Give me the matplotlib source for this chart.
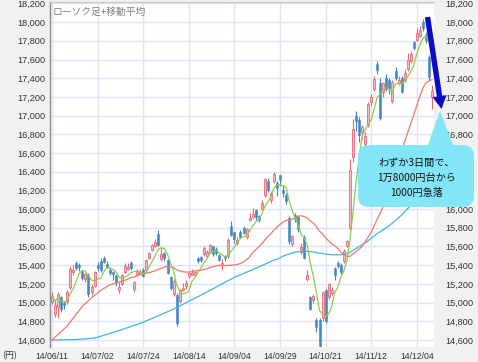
import numpy as np
import pandas as pd
import matplotlib
matplotlib.use("Agg")
import matplotlib.pyplot as plt
from matplotlib.patches import Polygon, FancyBboxPatch
from matplotlib.transforms import IdentityTransform

# ---------------- data (Nikkei 225 daily, 2014/06/11 - 2014/12/11) ----------------
trading_days = {
    "06": [11, 12, 13, 16, 17, 18, 19, 20, 23, 24, 25, 26, 27, 30],
    "07": [1, 2, 3, 4, 7, 8, 9, 10, 11, 14, 15, 16, 17, 18, 22, 23, 24, 25, 28, 29, 30, 31],
    "08": [1, 4, 5, 6, 7, 8, 11, 12, 13, 14, 15, 18, 19, 20, 21, 22, 25, 26, 27, 28, 29],
    "09": [1, 2, 3, 4, 5, 8, 9, 10, 11, 12, 16, 17, 18, 19, 22, 24, 25, 26, 29, 30],
    "10": [1, 2, 3, 6, 7, 8, 9, 10, 14, 15, 16, 17, 20, 21, 22, 23, 24, 27, 28, 29, 30, 31],
    "11": [4, 5, 6, 7, 10, 11, 12, 13, 14, 17, 18, 19, 20, 21, 25, 26, 27, 28],
    "12": [1, 2, 3, 4, 5, 8, 9, 10, 11],
}
dates = [f"14/{m}/{d:02d}" for m, ds in trading_days.items() for d in ds]

opens = [15010, 14880, 14950, 15060, 15000, 15010, 15170, 15330, 15420, 15400,
         15330, 15250, 15300, 15110, 15180, 15400, 15450, 15480, 15410, 15350,
         15330, 15290, 15130, 15200, 15330, 15360, 15420, 15150, 15290, 15310,
         15350, 15350, 15480, 15560, 15600, 15730, 15470, 15530, 15460, 15270,
         15090, 15080, 15020, 15140, 15180, 15280, 15300, 15300, 15480, 15490,
         15520, 15500, 15540, 15600, 15570, 15510, 15400, 15500, 15500, 15820,
         15750, 15640, 15760, 15800, 15700, 15880, 15920, 15990, 15930, 16000,
         16150, 16300, 16100, 16300, 16280, 16360, 16200, 16150, 15900, 15630,
         15940, 15920, 15540, 15700, 15250, 15060, 15030, 14810, 14810, 14830,
         15130, 15060, 15100, 15370, 15420, 15400, 15440, 15600, 15800, 16560,
         17000, 16950, 16820, 16700, 16900, 17150, 17280, 17550, 17350, 17250,
         17400, 17380, 17160, 17480, 17350, 17400, 17380, 17500, 17580, 17790,
         17810, 17850, 18000, 17860, 17630, 17200]
highs = [15110, 15030, 15110, 15070, 15020, 15130, 15390, 15400, 15450, 15420,
         15350, 15320, 15320, 15200, 15340, 15430, 15480, 15500, 15450, 15380,
         15340, 15300, 15220, 15310, 15420, 15420, 15440, 15230, 15360, 15360,
         15370, 15470, 15540, 15630, 15680, 15780, 15590, 15540, 15470, 15280,
         15250, 15100, 15150, 15210, 15240, 15330, 15360, 15340, 15490, 15500,
         15600, 15560, 15630, 15610, 15590, 15520, 15470, 15510, 15690, 15870,
         15760, 15700, 15780, 15820, 15800, 15960, 16010, 16000, 15940, 16100,
         16330, 16330, 16190, 16400, 16300, 16370, 16260, 16170, 15930, 15720,
         15960, 15940, 15640, 15720, 15350, 15070, 15090, 14840, 14830, 15120,
         15150, 15210, 15170, 15380, 15440, 15420, 15570, 15670, 16533, 16960,
         17050, 16980, 16900, 16820, 17150, 17230, 17420, 17580, 17400, 17360,
         17450, 17400, 17380, 17520, 17420, 17420, 17500, 17670, 17690, 17800,
         17940, 17960, 18030, 17890, 17650, 17330]
lows = [14990, 14850, 14840, 14900, 14930, 14990, 15150, 15300, 15350, 15340,
        15240, 15220, 15060, 15080, 15170, 15340, 15330, 15420, 15370, 15290,
        15240, 15180, 15100, 15190, 15320, 15350, 15350, 15110, 15280, 15300,
        15270, 15330, 15470, 15550, 15590, 15610, 15450, 15450, 15310, 15130,
        15070, 14753, 15000, 15120, 15150, 15260, 15290, 15280, 15420, 15430,
        15500, 15490, 15530, 15500, 15510, 15450, 15350, 15450, 15480, 15710,
        15640, 15620, 15690, 15730, 15680, 15870, 15900, 15880, 15860, 15990,
        16130, 16180, 16070, 16280, 16140, 16250, 16130, 16050, 15630, 15600,
        15860, 15760, 15520, 15470, 15230, 14920, 15000, 14690, 14529, 14800,
        14780, 15040, 15080, 15240, 15370, 15310, 15420, 15590, 15780, 16500,
        16840, 16720, 16750, 16660, 16880, 17100, 17260, 17450, 16950, 17200,
        17260, 17230, 17130, 17380, 17330, 17240, 17360, 17480, 17560, 17700,
        17800, 17840, 17910, 17780, 17380, 17070]
closes = [15069, 14973, 15097, 14933, 14975, 15115, 15361, 15349, 15369, 15376,
          15266, 15308, 15095, 15162, 15326, 15369, 15348, 15437, 15379, 15314,
          15302, 15216, 15164, 15296, 15395, 15379, 15370, 15215, 15343, 15328,
          15284, 15457, 15529, 15618, 15646, 15620, 15523, 15474, 15320, 15160,
          15232, 14778, 15130, 15161, 15213, 15314, 15318, 15322, 15449, 15454,
          15586, 15539, 15613, 15521, 15534, 15459, 15424, 15476, 15668, 15728,
          15676, 15668, 15705, 15749, 15788, 15909, 15948, 15911, 15888, 16067,
          16321, 16205, 16167, 16374, 16229, 16310, 16173, 16082, 15661, 15708,
          15890, 15783, 15595, 15478, 15300, 14936, 15073, 14738, 14532, 15111,
          14804, 15195, 15138, 15291, 15388, 15329, 15553, 15658, 16413, 16862,
          16937, 16792, 16880, 16780, 17124, 17197, 17392, 17490, 16973, 17344,
          17288, 17300, 17357, 17407, 17383, 17248, 17459, 17590, 17663, 17720,
          17887, 17920, 17935, 17813, 17412, 17260]

# moving-average values before a full window exists
ma25_head_idx = [0, 5, 10, 13, 16, 19, 23]
ma25_head_val = [14600, 14750, 14960, 15050, 15130, 15190, 15230]
ma75_head_idx = [0, 8, 14, 22, 30, 40, 49, 60, 68, 73]
ma75_head_val = [14600, 14605, 14620, 14700, 14790, 14930, 15080, 15270, 15380, 15455]

tick_dates = ["14/06/11", "14/07/02", "14/07/24", "14/08/14", "14/09/04",
              "14/09/29", "14/10/21", "14/11/12", "14/12/04"]
y_ticks = [14600, 14800, 15000, 15200, 15400, 15600, 15800, 16000, 16200,
           16400, 16600, 16800, 17000, 17200, 17400, 17600, 17800, 18000, 18200]
# right-hand labels hidden behind the callout in the reference
right_hidden = [16200, 16400, 16600]

title_text = "ローソク足+移動平均"
bubble_lines = ["わずか3日間で、", "1万8000円台から", "1000円急落"]

# ---------------- figure ----------------
W, H = 478, 362
BG = "#f1f1ef"
CJK = ["Noto Sans CJK JP", "DejaVu Sans"]
LAT = "Liberation Sans"

fig = plt.figure(figsize=(W / 100, H / 100), dpi=100, facecolor=BG)
ax = fig.add_axes([50 / W, 15 / H, 384 / W, 345 / H])
ax.set_facecolor("white")

o = np.array(opens, float); h = np.array(highs, float)
l = np.array(lows, float); c = np.array(closes, float)
x = np.arange(len(c))
up = c >= o

RED_E, RED_F = "#e46a78", "#f7b9c2"
BLUE = "#4386c6"

# grid
for yt in y_ticks:
    ax.axhline(yt, color="#dde5f4", lw=1.0, zorder=0)
tick_pos = [dates.index(t) for t in tick_dates]
for xp in tick_pos:
    ax.axvline(xp, color="#dde5f4", lw=1.0, zorder=0)

# candles
wick_col = np.where(up, RED_E, BLUE)
ax.vlines(x, l, h, colors=wick_col, lw=0.8, zorder=2)
body_h = np.maximum(np.abs(c - o), 6)
ax.bar(x[up], body_h[up], bottom=np.minimum(o, c)[up], width=0.66,
       color=RED_F, edgecolor=RED_E, linewidth=0.6, zorder=3)
ax.bar(x[~up], body_h[~up], bottom=np.minimum(o, c)[~up], width=0.66,
       color=BLUE, edgecolor=BLUE, linewidth=0.4, zorder=3)

# moving averages
s = pd.Series(c)
ma5 = s.rolling(5, min_periods=1).mean().values
ma25 = s.rolling(25).mean().values
ma75 = s.rolling(75).mean().values
ax.plot(np.r_[ma75_head_idx, x[74:]], np.r_[ma75_head_val, ma75[74:]],
        color="#3fb5e8", lw=0.9, zorder=4)
ax.plot(np.r_[ma25_head_idx, x[24:]], np.r_[ma25_head_val, ma25[24:]],
        color="#f27764", lw=0.9, zorder=4)
ax.plot(x, ma5, color="#8dcc4e", lw=0.9, zorder=5)

ax.set_xlim(-0.66, 125.66)
ax.set_ylim(14525, 18215)

ax.set_xticks(tick_pos)
ax.set_xticklabels(tick_dates, fontsize=6.2, color="#333333", family=LAT)
ax.set_yticks(y_ticks)
ax.set_yticklabels([f"{v:,}" for v in y_ticks], fontsize=6.6, color="#333333", family=LAT)
ax.tick_params(axis="both", length=0)
ax.tick_params(axis="x", pad=3.3)
ax.tick_params(axis="y", pad=3.6)

for side in ["bottom", "right"]:
    ax.spines[side].set_visible(False)
ax.spines["left"].set_color("#8a8a8a")
ax.spines["left"].set_linewidth(1.0)
ax.spines["top"].set_color("#c8c8c8")
ax.spines["top"].set_linewidth(0.8)

ax2 = ax.twinx()
ax2.set_ylim(ax.get_ylim())
ax2.set_yticks(y_ticks)
ax2.set_yticklabels(["" if v in right_hidden else f"{v:,}" for v in y_ticks],
                    fontsize=6.6, color="#333333", family=LAT)
ax2.tick_params(axis="y", length=0, pad=8)
for sp in ax2.spines.values():
    sp.set_visible(False)

# texts
def fx(px):
    return px / W

def fy(py):
    return 1 - py / H

fig.text(fx(53), fy(12), title_text, ha="left", va="center", fontsize=7,
         color="#808080", family=CJK)
fig.text(fx(2), fy(355.5), "(円)", ha="left", va="center", fontsize=6.4,
         color="#333333", family=CJK)

# callout bubble (pixel coordinates)
def P(px, py):
    return (px, H - py)

BUB = "#82e6f8"
bub = FancyBboxPatch(P(358, 207), 116, 62, boxstyle="round,pad=0,rounding_size=11",
                     fc=BUB, ec="none", transform=IdentityTransform(), zorder=6)
fig.add_artist(bub)
tri = Polygon([P(426, 150), P(440, 111), P(455, 150)], closed=True, fc=BUB,
              ec="none", transform=IdentityTransform(), zorder=6)
fig.add_artist(tri)
for i, t in enumerate(bubble_lines):
    fig.text(fx(417), fy(163 + 15 * i), t, ha="center", va="center", fontsize=7.3,
             color="#111111", family=CJK, zorder=8)

# blue arrow (pixel coordinates)
p0 = np.array([427.5, 17.0]); p1 = np.array([441.5, 109.0])
u = (p1 - p0) / np.linalg.norm(p1 - p0)
n = np.array([-u[1], u[0]])
hb = p1 - u * 13
pts = [p0 + n * 2.7, hb + n * 2.7, hb + n * 7, p1, hb - n * 7, hb - n * 2.7, p0 - n * 2.7]
arrow = Polygon([P(*q) for q in pts], closed=True, fc="#0a0ac8", ec="none",
                transform=IdentityTransform(), zorder=7)
fig.add_artist(arrow)

fig.savefig("out.png", dpi=100, facecolor=BG)
